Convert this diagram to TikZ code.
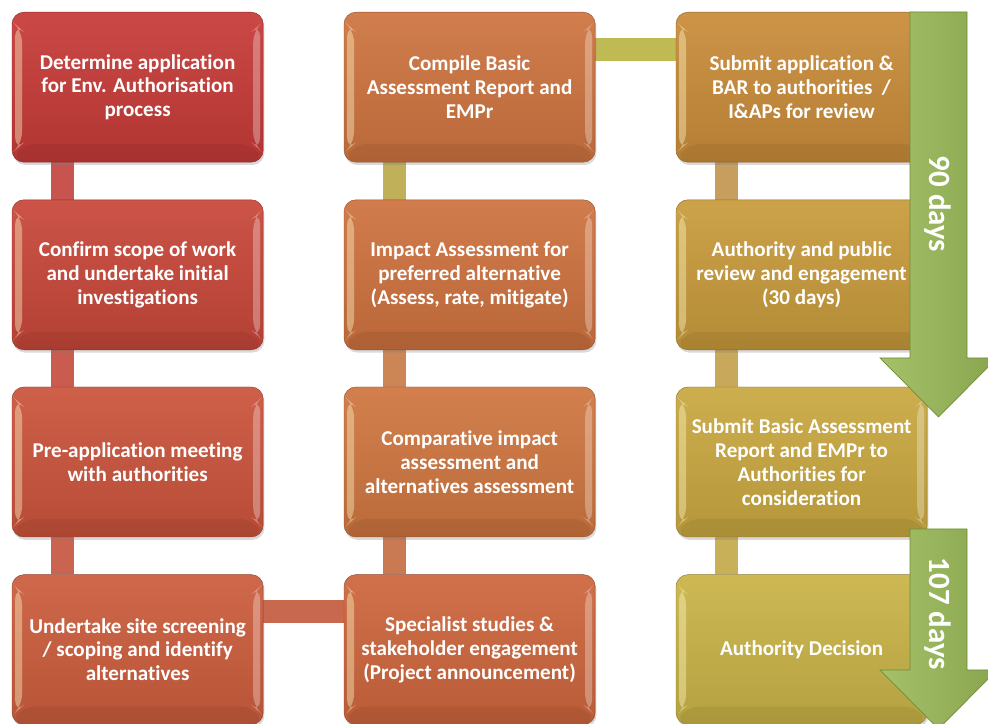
\documentclass[tikz,border=0pt]{standalone}
\usepackage{fontspec}
\setmainfont{Carlito}[Ligatures=NoCommon]
\usepackage{tikz}
\usetikzlibrary{positioning,calc,shadows,backgrounds}

\definecolor{stepA}{HTML}{C63B38}
\definecolor{stepB}{HTML}{C8473A}
\definecolor{stepC}{HTML}{CB543C}
\definecolor{stepD}{HTML}{CC5D3D}
\definecolor{stepE}{HTML}{CD663D}
\definecolor{stepF}{HTML}{CF7640}
\definecolor{stepG}{HTML}{CE723F}
\definecolor{stepH}{HTML}{CE7440}
\definecolor{stepI}{HTML}{C98C3A}
\definecolor{stepJ}{HTML}{C89B3C}
\definecolor{stepK}{HTML}{C9A841}
\definecolor{stepL}{HTML}{C9B347}

\definecolor{linkA}{HTML}{C85450}
\definecolor{linkB}{HTML}{C95B4F}
\definecolor{linkC}{HTML}{CA634F}
\definecolor{linkD}{HTML}{C8694F}
\definecolor{linkE}{HTML}{C97A52}
\definecolor{linkF}{HTML}{CC8555}
\definecolor{linkG}{HTML}{C0B05A}
\definecolor{linkH}{HTML}{C0BA55}
\definecolor{linkI}{HTML}{C89E5E}
\definecolor{linkJ}{HTML}{C8A85A}
\definecolor{linkK}{HTML}{C8B058}

\definecolor{arrowgreen}{HTML}{9BBB59}
\definecolor{arrowdark}{HTML}{6F8C35}

\tikzset{
  stepbox/.style={rounded corners=0.3cm, minimum width=6.28cm, minimum height=3.75cm,
    inner sep=0pt, align=center, text=white,
    font=\fontsize{15}{17}\selectfont\bfseries,
    top color=#1!93!white, middle color=#1, bottom color=#1!90!black,
    draw=#1!70!black, line width=0.3pt,
    drop shadow={opacity=0.3, shadow xshift=0.03cm, shadow yshift=-0.07cm},
    path picture={
      \coordinate (nw) at (path picture bounding box.north west);
      \coordinate (se) at (path picture bounding box.south east);
      \fill[yellow!20!white, opacity=0.4] ($(nw)+(0.08,-0.3)$) -- ($(nw)+(0.25,-0.45)$)
        -- ($(nw|-se)+(0.25,0.45)$) -- ($(nw|-se)+(0.08,0.3)$) -- cycle;
      \fill[white, opacity=0.3] ($(se|-nw)+(-0.08,-0.3)$) -- ($(se|-nw)+(-0.25,-0.45)$)
        -- ($(se)+(-0.25,0.45)$) -- ($(se)+(-0.08,0.3)$) -- cycle;
      \fill[black, opacity=0.06] ($(nw|-se)+(0.25,0.45)$) -- ($(se)+(-0.25,0.45)$)
        -- (se) -- (nw|-se) -- cycle;
    }},
  link/.style={line width=0.575cm, draw=#1},
  dayarrow/.style={left color=arrowgreen!90!white, middle color=arrowgreen,
    right color=arrowgreen!88!black, draw=arrowdark, line width=0.5pt},
  daystext/.style={rotate=-90, text=white, font=\fontsize{22}{24}\selectfont\bfseries}
}

\begin{document}
\begin{tikzpicture}
\useasboundingbox (0,0) rectangle (24.7,18.1);
\clip (0,0) rectangle (24.7,18.1);

\node[stepbox=stepA] at (3.44,15.92) (determine) {Determine application\\for Env. Authorisation\\process};
\node[stepbox=stepB] at (3.44,11.23) (scope) {Confirm scope of work\\and undertake initial\\investigations};
\node[stepbox=stepC] at (3.44,6.55) (meeting) {Pre-application meeting\\with authorities};
\node[stepbox=stepD] at (3.44,1.86) (screening) {Undertake site screening\\/ scoping and identify\\alternatives};

\node[stepbox=stepE] at (11.74,1.86) (studies) {Specialist studies \&\\stakeholder engagement\\(Project announcement)};
\node[stepbox=stepF] at (11.74,6.55) (comparative) {Comparative impact\\assessment and\\alternatives assessment};
\node[stepbox=stepG] at (11.74,11.23) (impact) {Impact Assessment for\\preferred alternative\\(Assess, rate, mitigate)};
\node[stepbox=stepH] at (11.74,15.92) (compile) {Compile Basic\\Assessment Report and\\EMPr};

\node[stepbox=stepI] at (20.04,15.92) (submit) {Submit application \&\\BAR to authorities~~/\\I\&APs for review};
\node[stepbox=stepJ] at (20.04,11.23) (review) {Authority and public\\review and engagement\\(30 days)};
\node[stepbox=stepK] at (20.04,6.55) (consider) {Submit Basic Assessment\\Report and EMPr to\\Authorities for\\consideration};
\node[stepbox=stepL] at (20.04,1.86) (decision) {Authority Decision};

\begin{scope}[on background layer]
\draw[link=linkA] ([xshift=1.28cm]determine.south west) -- ([xshift=1.28cm]scope.north west);
\draw[link=linkB] ([xshift=1.28cm]scope.south west) -- ([xshift=1.28cm]meeting.north west);
\draw[link=linkC] ([xshift=1.28cm]meeting.south west) -- ([xshift=1.28cm]screening.north west);
\draw[link=linkD] ([yshift=0.95cm]screening.east) -- ([yshift=0.95cm]studies.west);
\draw[link=linkE] ([xshift=1.28cm]studies.north west) -- ([xshift=1.28cm]comparative.south west);
\draw[link=linkF] ([xshift=1.28cm]comparative.north west) -- ([xshift=1.28cm]impact.south west);
\draw[link=linkG] ([xshift=1.28cm]impact.north west) -- ([xshift=1.28cm]compile.south west);
\draw[link=linkH] ([yshift=0.95cm]compile.east) -- ([yshift=0.95cm]submit.west);
\draw[link=linkI] ([xshift=1.28cm]submit.south west) -- ([xshift=1.28cm]review.north west);
\draw[link=linkJ] ([xshift=1.28cm]review.south west) -- ([xshift=1.28cm]consider.north west);
\draw[link=linkK] ([xshift=1.28cm]consider.south west) -- ([xshift=1.28cm]decision.north west);
\end{scope}

% timeline arrows over the last column
\draw[dayarrow] (22.75,17.8) -- (24.175,17.8) -- (24.175,9.15) -- (24.925,9.15)
  -- (23.4625,7.675) -- (22.0,9.15) -- (22.75,9.15) -- cycle;
\draw[dayarrow] (22.75,4.875) -- (24.175,4.875) -- (24.175,1.35) -- (24.925,1.35)
  -- (23.4625,-0.125) -- (22.0,1.35) -- (22.75,1.35) -- cycle;
\node[daystext] at (23.46,13.0) (ninety) {90 days};
\node[daystext] at (23.46,2.75) (hundredseven) {107 days};
\end{tikzpicture}
\end{document}
